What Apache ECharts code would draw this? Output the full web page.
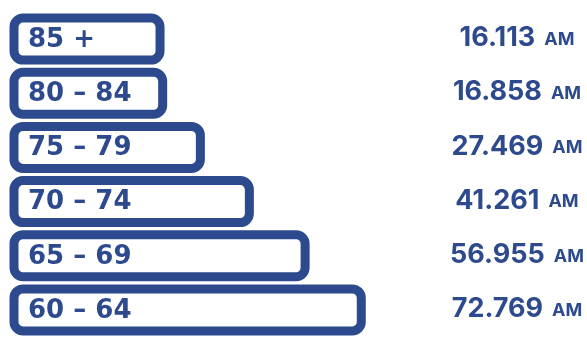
<!DOCTYPE html>
<html>
<head>
<meta charset="utf-8">
<script src="https://cdn.jsdelivr.net/npm/echarts@6/dist/echarts.min.js"></script>
<style>html,body{margin:0;padding:0;background:#fff}#c{width:587px;height:337px}</style>
</head>
<body>
<div id="c"></div>
<script>
const categories = ['85 +', '80 – 84', '75 – 79', '70 – 74', '65 – 69', '60 – 64'];
const values = [16.113, 16.858, 27.469, 41.261, 56.955, 72.769];
const unitLabel = 'AM';

const BLUE = '#2c4a8d';
const AXIS_MIN = -25;

const chart = echarts.init(document.getElementById('c'), null, {renderer: 'canvas'});
chart.setOption({
  backgroundColor: '#fff',
  animation: false,
  grid: {left: 14, top: 12, height: 333, width: 444},
  xAxis: {type: 'value', min: AXIS_MIN, max: 100, show: false},
  yAxis: {type: 'category', data: categories, inverse: true, show: false},
  series: [{
    type: 'custom',
    data: values.map((v, i) => [v, i]),
    encode: {x: 0, y: 1},
    renderItem: function (params, api) {
      const v = api.value(0);
      const idx = api.value(1);
      const start = api.coord([AXIS_MIN, idx]);
      const end = api.coord([v, idx]);
      const h = 42;
      const cy = start[1];
      return {
        type: 'group',
        children: [
          {
            type: 'rect',
            shape: {x: start[0], y: cy - h / 2, width: end[0] - start[0], height: h, r: 9},
            style: {fill: '#fff', stroke: BLUE, lineWidth: 9}
          },
          {
            type: 'text',
            x: start[0] + 14,
            y: cy + 1,
            style: {
              text: categories[idx],
              fill: BLUE,
              font: 'bold 26px "DejaVu Sans"',
              textAlign: 'left',
              textVerticalAlign: 'middle'
            }
          },
          {
            type: 'text',
            x: api.getWidth() - 70,
            y: cy - 1,
            style: {
              text: '{v|' + v.toFixed(3) + '}{u|' + unitLabel + '}',
              textAlign: 'center',
              textVerticalAlign: 'middle',
              rich: {
                v: {fill: BLUE, fontFamily: 'Inter', fontWeight: 'bold', fontSize: 27},
                u: {fill: BLUE, fontFamily: 'Inter', fontWeight: 'bold', fontSize: 18, padding: [3, 0, 0, 9]}
              }
            }
          }
        ]
      };
    }
  }]
});
</script>
</body>
</html>
